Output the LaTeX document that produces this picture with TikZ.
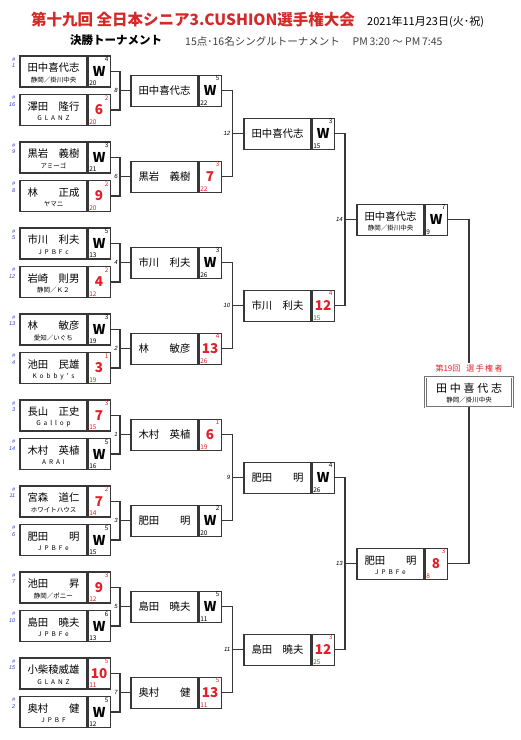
\documentclass[tikz,border=0pt]{standalone}
\usepackage{fontspec}
\setmainfont{Noto Sans CJK JP}
\newfontfamily\itsans{Liberation Sans}
\newfontfamily\spc[LetterSpace=45]{Noto Sans CJK JP}
\usetikzlibrary{calc}
\definecolor{lnc}{RGB}{55,55,55}
\definecolor{lossR}{RGB}{226,30,38}
\definecolor{titleR}{RGB}{214,40,40}
\definecolor{seedB}{RGB}{50,60,200}

% one entry: node, left x, centre y, player, club, mark, sup, low, colour
\newcommand\plbox[9]{%
  \node[namebox] (#1) at (#2+33.5,#3) {};
  \node[scorebox] (#1s) at (#1.east) {};
  \if\relax\detokenize{#5}\relax
    \node[plname] (#1n) at (#1.center) {\makebox[52pt]{#4}};
  \else
    \node[plname] (#1n) at ([yshift=3.5pt]#1.center) {\makebox[52pt]{#4}};
    \node[affil] (#1c) at ([yshift=-8.5pt]#1.center) {#5};
  \fi
  \node[bigmark,text=#9] (#1m) at (#1s.center) {#6};
  \node[supno,text=#9] (#1u) at ([xshift=-2pt,yshift=-1.5pt]#1s.north east) {#7};
  \node[lowno,text=#9] (#1l) at ([xshift=1.5pt,yshift=1.5pt]#1s.south west) {#8};
}
% seed number left of a first round box
\newcommand\seed[2]{%
  \node[seedno] (#1h) at ([xshift=-4pt,yshift=-2pt]#1.north west) {\#\\#2};
}
% bracket: coordinate, position, upper, lower, next box, match number
\newcommand\match[6]{%
  \coordinate (#1) at (#2);
  \draw[link] (#3s.east) -| (#1) |- (#4s.east);
  \draw[link] (#1) -- (#5.west);
  \node[matchno] (#1n) at ([xshift=-2pt]#1) {#6};
}

\begin{document}
\begin{tikzpicture}[x=1pt,y=-1pt,
  namebox/.style={draw=lnc,line width=1.1pt,minimum width=67pt,minimum height=31pt,inner sep=0pt},
  scorebox/.style={draw=lnc,line width=1.1pt,minimum width=22pt,minimum height=31pt,inner sep=0pt,anchor=west},
  plname/.style={font=\fontsize{10.4}{11}\selectfont,inner sep=0pt},
  affil/.style={font=\fontsize{6.5}{7}\selectfont,inner sep=0pt},
  bigmark/.style={font=\fontsize{13.5}{14}\selectfont\bfseries,inner sep=0pt},
  supno/.style={font=\fontsize{6.3}{6.5}\selectfont,inner sep=0pt,anchor=north east},
  lowno/.style={font=\fontsize{6.5}{7}\selectfont,inner sep=0pt,anchor=south west},
  seedno/.style={font=\fontsize{5.5}{6.5}\selectfont\itsans\itshape,text=seedB,align=right,inner sep=0pt,anchor=north east},
  matchno/.style={font=\fontsize{6}{6}\selectfont\itsans\itshape,inner sep=0pt,anchor=east},
  link/.style={draw=lnc,line width=1.1pt}]
\useasboundingbox (0,0) rectangle (521,740);

% heading
\node[font=\fontsize{15.5}{16}\selectfont\bfseries,text=titleR,inner sep=0pt] (title) at (193,20) {第十九回 全日本シニア3.CUSHION選手権大会};
\node[font=\fontsize{11}{12}\selectfont,anchor=west,inner sep=0pt] (date) at (367,22) {2021年11月23日(火･祝)};
\node[font=\fontsize{11.5}{12}\selectfont\bfseries,anchor=west,inner sep=0pt] (stage) at (70,40) {決勝トーナメント};
\node[font=\fontsize{10.5}{11}\selectfont,text=black!75,anchor=west,inner sep=0pt] (info) at (185,41) {15点･16名シングルトーナメント\quad\ PM\,3:20\ ～\ PM\,7:45};

% first round
\plbox{a1}{20}{71.5}{田中喜代志}{静岡／掛川中央}{W}{4}{20}{black}
\plbox{a2}{20}{110}{澤田\hfill 隆行}{\spc GLANZ}{6}{2}{20}{lossR}
\plbox{a3}{20}{157.5}{黒岩\hfill 義樹}{アミーゴ}{W}{3}{21}{black}
\plbox{a4}{20}{196}{林\hfill 正成}{ヤマニ}{9}{2}{20}{lossR}
\plbox{a5}{20}{243.5}{市川\hfill 利夫}{\spc JPBFc}{W}{5}{13}{black}
\plbox{a6}{20}{282}{岩崎\hfill 則男}{静岡／Ｋ２}{4}{2}{12}{lossR}
\plbox{a7}{20}{329.5}{林\hfill 敏彦}{愛知／いぐち}{W}{3}{19}{black}
\plbox{a8}{20}{368}{池田\hfill 民雄}{\spc Kobby's}{3}{1}{19}{lossR}
\plbox{a9}{20}{415.5}{長山\hfill 正史}{\spc Gallop}{7}{3}{15}{lossR}
\plbox{a10}{20}{454}{木村\hfill 英植}{\spc ARAI}{W}{5}{16}{black}
\plbox{a11}{20}{501.5}{宮森\hfill 道仁}{ホワイトハウス}{7}{2}{14}{lossR}
\plbox{a12}{20}{540}{肥田\hfill 明}{\spc JPBFe}{W}{5}{15}{black}
\plbox{a13}{20}{587.5}{池田\hfill 昇}{静岡／ポニー}{9}{3}{12}{lossR}
\plbox{a14}{20}{626}{島田\hfill 曉夫}{\spc JPBFe}{W}{6}{13}{black}
\plbox{a15}{20}{673.5}{小柴稜威雄}{\spc GLANZ}{10}{5}{11}{lossR}
\plbox{a16}{20}{712}{奥村\hfill 健}{\spc JPBF}{W}{5}{12}{black}
\seed{a1}{1} \seed{a2}{16} \seed{a3}{9} \seed{a4}{8}
\seed{a5}{5} \seed{a6}{12} \seed{a7}{13} \seed{a8}{4}
\seed{a9}{3} \seed{a10}{14} \seed{a11}{11} \seed{a12}{6}
\seed{a13}{7} \seed{a14}{10} \seed{a15}{15} \seed{a16}{2}

% second round
\plbox{b1}{131}{90.75}{田中喜代志}{}{W}{5}{22}{black}
\plbox{b2}{131}{176.75}{黒岩\hfill 義樹}{}{7}{3}{22}{lossR}
\plbox{b3}{131}{262.75}{市川\hfill 利夫}{}{W}{3}{26}{black}
\plbox{b4}{131}{348.75}{林\hfill 敏彦}{}{13}{4}{26}{lossR}
\plbox{b5}{131}{434.75}{木村\hfill 英植}{}{6}{1}{19}{lossR}
\plbox{b6}{131}{520.75}{肥田\hfill 明}{}{W}{2}{20}{black}
\plbox{b7}{131}{606.75}{島田\hfill 曉夫}{}{W}{5}{11}{black}
\plbox{b8}{131}{692.75}{奥村\hfill 健}{}{13}{5}{11}{lossR}

% third round
\plbox{c1}{244}{133.75}{田中喜代志}{}{W}{3}{15}{black}
\plbox{c2}{244}{305.75}{市川\hfill 利夫}{}{12}{4}{15}{lossR}
\plbox{c3}{244}{477.75}{肥田\hfill 明}{}{W}{4}{26}{black}
\plbox{c4}{244}{649.75}{島田\hfill 曉夫}{}{12}{3}{25}{lossR}

% semi final
\plbox{d1}{357}{219.75}{田中喜代志}{静岡／掛川中央}{W}{7}{9}{black}
\plbox{d2}{357}{563.75}{肥田\hfill 明}{\spc JPBFe}{8}{3}{8}{lossR}

% brackets
\match{m8}{120,90.75}{a1}{a2}{b1}{8}
\match{m6}{120,176.75}{a3}{a4}{b2}{6}
\match{m4}{120,262.75}{a5}{a6}{b3}{4}
\match{m2}{120,348.75}{a7}{a8}{b4}{2}
\match{m1}{120,434.75}{a9}{a10}{b5}{1}
\match{m3}{120,520.75}{a11}{a12}{b6}{3}
\match{m5}{120,606.75}{a13}{a14}{b7}{5}
\match{m7}{120,692.75}{a15}{a16}{b8}{7}
\match{m12}{232.5,133.75}{b1}{b2}{c1}{12}
\match{m10}{232.5,305.75}{b3}{b4}{c2}{10}
\match{m9}{232.5,477.75}{b5}{b6}{c3}{9}
\match{m11}{232.5,649.75}{b7}{b8}{c4}{11}
\match{m14}{345,219.75}{c1}{c2}{d1}{14}
\match{m13}{345,563.75}{c3}{c4}{d2}{13}

% champion
\node[draw=black!55,line width=0.9pt,double=white,double distance=0.8pt,minimum width=87pt,minimum height=30pt,inner sep=0pt] (ch) at (469,392) {};
\node[font=\fontsize{11}{12}\selectfont,inner sep=0pt] (chn) at ([yshift=4pt]ch.center) {\makebox[66pt][s]{田\hfill 中\hfill 喜\hfill 代\hfill 志}};
\node[font=\fontsize{6.5}{7}\selectfont,inner sep=0pt] (chc) at ([yshift=-8pt]ch.center) {静岡／掛川中央};
\node[font=\fontsize{8}{9}\selectfont,text=lossR,inner sep=1pt] (cht) at (469,368) {\makebox[67pt]{第19回\hfill 選\,手\,権\,者}};
\draw[link] (d1s.east) -| (cht.north);
\draw[link] (ch.south) |- (d2s.east);
\end{tikzpicture}
\end{document}
